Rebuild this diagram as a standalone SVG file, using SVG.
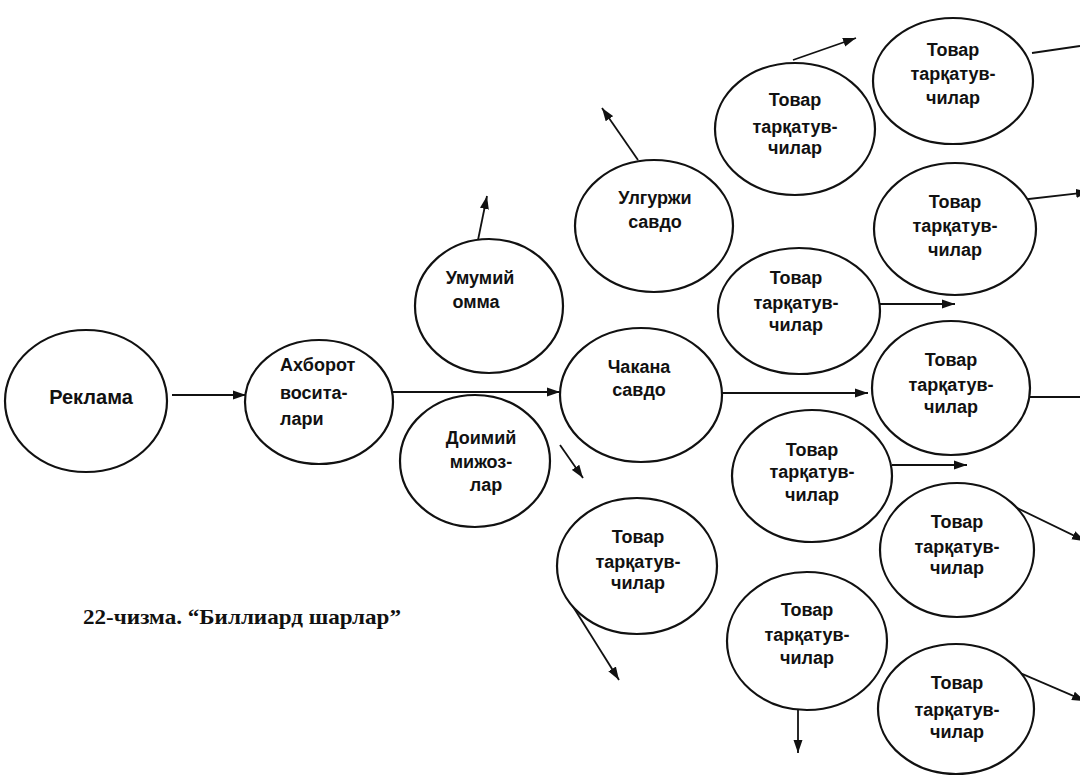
<svg xmlns="http://www.w3.org/2000/svg" width="1080" height="779" viewBox="0 0 1080 779">
<defs>
<marker id="ah" markerUnits="userSpaceOnUse" markerWidth="14" markerHeight="10" refX="13" refY="5" orient="auto">
<path d="M0,0.5 L13,5 L0,9.5 Z" fill="#111"/>
</marker>
<style>
.n ellipse{fill:#fff;stroke:#111;stroke-width:2.2}
.n text{font-family:"Liberation Sans",Arial,sans-serif;font-weight:bold;font-size:18px;fill:#111;text-anchor:middle}
#edges line{stroke:#111;stroke-width:1.8;fill:none}
#edges .a{marker-end:url(#ah)}
.cap{font-family:"Liberation Serif","Times New Roman",serif;font-weight:bold;font-size:22px;fill:#111}
</style>
</defs>
<rect width="1080" height="779" fill="#fff"/>
<g id="edges">
<line class="a" x1="172" y1="395" x2="246" y2="395"/>
<line class="a" x1="385" y1="392" x2="560" y2="392"/>
<line class="a" x1="722" y1="393" x2="868" y2="393"/>
<line class="a" x1="478" y1="240" x2="487" y2="196"/>
<line class="a" x1="638" y1="160" x2="602" y2="108"/>
<line class="a" x1="793" y1="60" x2="856" y2="38"/>
<line x1="1032" y1="53" x2="1080" y2="46"/>
<line class="a" x1="1020" y1="200" x2="1089" y2="192"/>
<line class="a" x1="880" y1="304" x2="955" y2="304"/>
<line x1="1030" y1="397" x2="1080" y2="397"/>
<line class="a" x1="892" y1="465" x2="967" y2="465"/>
<line class="a" x1="560" y1="445" x2="583" y2="478"/>
<line class="a" x1="1015" y1="507" x2="1085" y2="541"/>
<line class="a" x1="572" y1="605" x2="619" y2="680"/>
<line class="a" x1="798" y1="700" x2="798" y2="753"/>
<line class="a" x1="1013" y1="670" x2="1085" y2="701"/>
</g>
<g id="reklama" class="n"><ellipse cx="86" cy="401" rx="81" ry="71"/><text x="91" y="404" style="font-size:20px">Реклама</text></g>
<g id="axborot" class="n"><ellipse cx="319" cy="402" rx="74" ry="62"/><text x="280" y="371" style="text-anchor:start">Ахборот</text><text x="280" y="399" style="text-anchor:start">восита-</text><text x="280" y="425" style="text-anchor:start">лари</text></g>
<g id="umumiy" class="n"><ellipse cx="489" cy="306" rx="74" ry="67"/><text x="480" y="284">Умумий</text><text x="476" y="308">омма</text></g>
<g id="doimiy" class="n"><ellipse cx="475" cy="461" rx="75" ry="66"/><text x="481" y="444">Доимий</text><text x="481" y="468">мижоз-</text><text x="486" y="491">лар</text></g>
<g id="chakana" class="n"><ellipse cx="641" cy="395" rx="81" ry="67"/><text x="639" y="373">Чакана</text><text x="639" y="396">савдо</text></g>
<g id="ulgurji" class="n"><ellipse cx="654" cy="226" rx="79" ry="66"/><text x="655" y="204">Улгуржи</text><text x="655" y="228">савдо</text></g>
<g id="t1" class="n"><ellipse cx="795" cy="129" rx="80" ry="66"/><text x="795" y="106">Товар</text><text x="795" y="133">тарқатув-</text><text x="795" y="154">чилар</text></g>
<g id="t2" class="n"><ellipse cx="953" cy="81" rx="80" ry="63"/><text x="953" y="56">Товар</text><text x="953" y="80">тарқатув-</text><text x="953" y="104">чилар</text></g>
<g id="t3" class="n"><ellipse cx="955" cy="229" rx="81" ry="66"/><text x="955" y="208">Товар</text><text x="955" y="232">тарқатув-</text><text x="955" y="256">чилар</text></g>
<g id="t4" class="n"><ellipse cx="799" cy="311" rx="81" ry="63"/><text x="796" y="284">Товар</text><text x="796" y="309">тарқатув-</text><text x="796" y="331">чилар</text></g>
<g id="t5" class="n"><ellipse cx="951" cy="388" rx="79" ry="67"/><text x="951" y="366">Товар</text><text x="951" y="391">тарқатув-</text><text x="951" y="413">чилар</text></g>
<g id="t6" class="n"><ellipse cx="812" cy="476" rx="80" ry="66"/><text x="812" y="456">Товар</text><text x="812" y="478">тарқатув-</text><text x="812" y="501">чилар</text></g>
<g id="t7" class="n"><ellipse cx="957" cy="550" rx="77" ry="67"/><text x="957" y="528">Товар</text><text x="957" y="553">тарқатув-</text><text x="957" y="574">чилар</text></g>
<g id="t8" class="n"><ellipse cx="637" cy="566" rx="80" ry="68"/><text x="638" y="543">Товар</text><text x="638" y="568">тарқатув-</text><text x="638" y="589">чилар</text></g>
<g id="t9" class="n"><ellipse cx="807" cy="641" rx="80" ry="69"/><text x="807" y="616">Товар</text><text x="807" y="641">тарқатув-</text><text x="807" y="664">чилар</text></g>
<g id="t10" class="n"><ellipse cx="956" cy="709" rx="78" ry="65"/><text x="957" y="689">Товар</text><text x="957" y="716">тарқатув-</text><text x="957" y="738">чилар</text></g>
<text class="cap" x="83" y="624" textLength="318" lengthAdjust="spacingAndGlyphs">22-чизма. “Биллиард шарлар”</text>
</svg>
